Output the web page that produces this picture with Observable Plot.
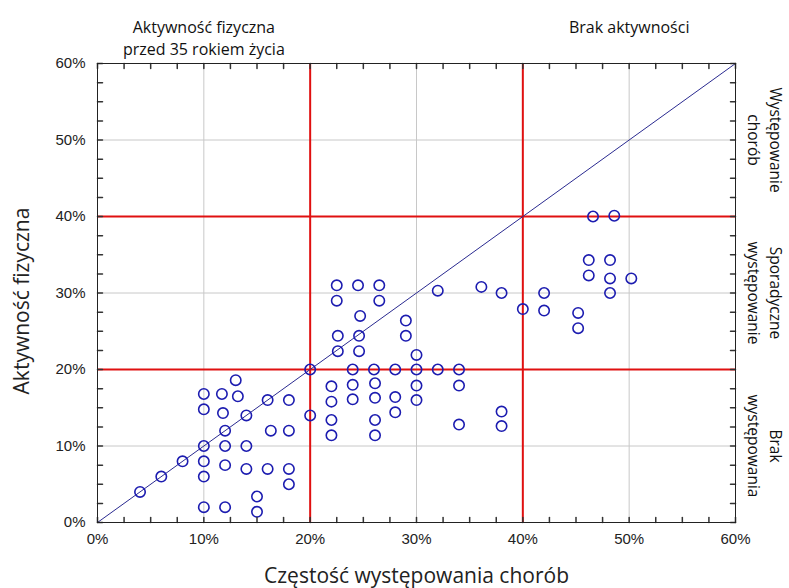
<!DOCTYPE html>
<html><head><meta charset="utf-8">
<script src="https://cdn.jsdelivr.net/npm/d3@7"></script>
<script src="https://cdn.jsdelivr.net/npm/@observablehq/plot@0.6"></script>
<style>body{margin:0;background:#fff}</style>
</head><body><div id="chart"></div>
<script>
// Częstość występowania chorób (x, %)
const freq = [
  4, 6, 8, 10, 10, 10, 10, 10, 10, 11.7, 11.8, 12, 12, 12, 12, 13, 13.2, 14, 14, 14, 15, 15, 16, 16, 16.3, 18, 18, 18, 18, 20, 20,
  22.5, 24.5, 26.5, 22.5, 26.5, 24.7, 29, 22.6, 24.6, 29, 22.6, 24.6, 30, 24, 26, 28, 30, 32, 34, 22, 24, 26.1, 30, 34,
  22, 24, 26.1, 28, 30, 22, 26.1, 28, 22, 26.1, 34, 38, 38,
  32, 36.1, 38, 40, 42, 42, 45.2, 45.2, 46.2, 48.2, 46.2, 48.2, 50.2, 48.2, 46.6, 48.6
];
// Aktywność fizyczna (y, %)
const activity = [
  4, 6, 8, 10, 8, 6, 2, 14.8, 16.8, 16.8, 14.3, 12, 10, 7.5, 2, 18.6, 16.5, 14, 10, 7, 3.4, 1.4, 16, 7, 12, 16, 12, 7, 5, 20, 14,
  31, 31, 31, 29, 29, 27, 26.4, 24.4, 24.4, 24.4, 22.4, 22.4, 21.9, 20, 20, 20, 20, 20, 20, 17.8, 18, 18.2, 17.9, 17.9,
  15.8, 16.1, 16.3, 16.4, 16, 13.4, 13.4, 14.4, 11.4, 11.4, 12.8, 14.5, 12.6,
  30.3, 30.8, 30, 27.9, 30, 27.7, 27.4, 25.4, 34.3, 34.3, 32.3, 31.9, 31.9, 30, 40, 40.1
];
const majorTicks = [0, 10, 20, 30, 40, 50, 60];
const minorTicks = [0, 2.5, 5, 7.5, 10, 12.5, 15, 17.5, 20, 22.5, 25, 27.5, 30, 32.5, 35, 37.5, 40, 42.5, 45, 47.5, 50, 52.5, 55, 57.5, 60];
const grayLines = [10, 30, 50];
const redLines = [20, 40];
const diagonal = [0, 60];
const topLabels = [
  {x: 10, text: "Aktywność fizyczna\nprzed 35 rokiem życia"},
  {x: 50, text: "Brak aktywności"}
];
const rightLabels = [
  {y: 50, text: "Występowanie\nchorób"},
  {y: 30, text: "Sporadyczne\nwystępowanie"},
  {y: 10, text: "Brak\nwystępowania"}
];

const points = freq.map((f, i) => ({x: f, y: activity[i]}));
const tickShape = {draw(ctx, l) { ctx.moveTo(0, 0); ctx.lineTo(0, -l); }};
const labelFont = "Open Sans, Noto Sans, sans-serif";

const chart = Plot.plot({
  width: 789, height: 588,
  marginLeft: 97, marginRight: 54, marginTop: 63, marginBottom: 66,
  style: {fontFamily: "Liberation Sans, Arial, sans-serif", fontSize: "15px", background: "#fff", color: "#222"},
  x: {domain: [0, 60]},
  y: {domain: [0, 60]},
  marks: [
    Plot.ruleX(grayLines, {stroke: "#c8c8c8", strokeWidth: 1}),
    Plot.ruleY(grayLines, {stroke: "#c8c8c8", strokeWidth: 1}),
    Plot.ruleX(redLines, {stroke: "#e01010", strokeWidth: 2}),
    Plot.ruleY(redLines, {stroke: "#e01010", strokeWidth: 2}),
    Plot.line(diagonal, {x: d => d, y: d => d, stroke: "#2a2a90", strokeWidth: 1}),
    Plot.dot(points, {x: "x", y: "y", r: 5.2, stroke: "#1c1cb0", strokeWidth: 1.6, fill: "none"}),
    Plot.vector(minorTicks, {x: d => d, y: 0, length: 5, rotate: 0, anchor: "start", shape: tickShape, stroke: "#333"}),
    Plot.vector(minorTicks, {x: d => d, y: 60, length: 5, rotate: 180, anchor: "start", shape: tickShape, stroke: "#333"}),
    Plot.vector(minorTicks, {x: 0, y: d => d, length: 5, rotate: 90, anchor: "start", shape: tickShape, stroke: "#333"}),
    Plot.vector(minorTicks, {x: 60, y: d => d, length: 5, rotate: -90, anchor: "start", shape: tickShape, stroke: "#333"}),
    Plot.frame({stroke: "#222", strokeWidth: 1}),
    Plot.axisX(majorTicks, {tickSize: 0, tickPadding: 11, tickFormat: d => d + "%", label: null, fontSize: 15}),
    Plot.axisY(majorTicks, {tickSize: 0, tickPadding: 12, tickFormat: d => d + "%", label: null, fontSize: 15}),
    Plot.text(["Aktywność fizyczna"], {frameAnchor: "left", textAnchor: "middle", lineAnchor: "middle", rotate: -90, dx: -75, dy: 8, fontSize: 21, fontFamily: labelFont, fill: "#222"}),
    Plot.text(["Częstość występowania chorób"], {frameAnchor: "bottom", textAnchor: "middle", lineAnchor: "middle", dy: 54, fontSize: 21, fontFamily: labelFont, fill: "#222"}),
    Plot.text(topLabels, {x: "x", y: 60, text: "text", lineAnchor: "top", dy: -46, lineHeight: 1.375, fontSize: 16, fontFamily: labelFont, fill: "#111"}),
    Plot.text(rightLabels, {x: 60, y: "y", text: "text", rotate: 90, dx: 31, lineHeight: 1.42, fontSize: 15.5, fontFamily: labelFont, fill: "#111"})
  ]
});
document.getElementById("chart").appendChild(chart);
</script>
</body></html>
